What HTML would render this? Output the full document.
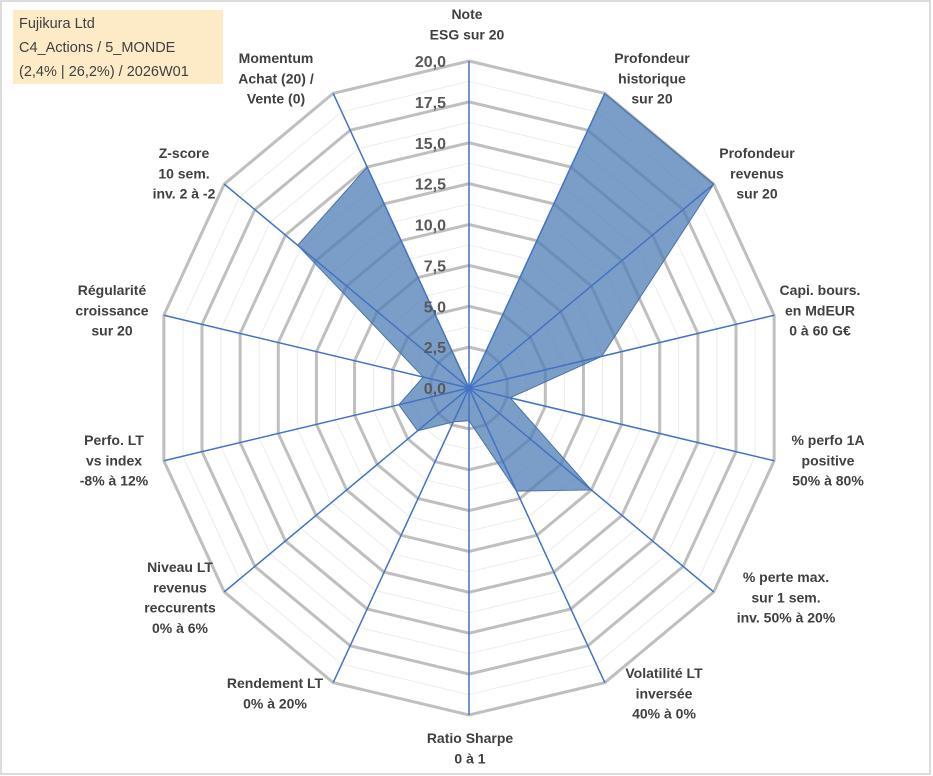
<!DOCTYPE html>
<html><head><meta charset="utf-8"><style>
body{margin:0;background:#fff;}
#wrap{position:relative;width:933px;height:776px;overflow:hidden;}
svg{position:absolute;left:0;top:0;}
.lbl{font-family:"Liberation Sans",sans-serif;font-weight:bold;font-size:14px;fill:#404040;}
.tick{font-family:"Liberation Sans",sans-serif;font-weight:bold;font-size:16px;fill:#595959;}
#info{position:absolute;left:13px;top:10px;width:210px;height:74px;background:#fdebc8;font-family:"Liberation Sans",sans-serif;font-size:14.5px;color:#404040;line-height:24px;padding:2px 0 0 6px;box-sizing:border-box;}
</style></head><body>
<div id="wrap">
<svg id="chart" width="933" height="776">
<rect x="1" y="1" width="929" height="773" fill="none" stroke="#d0d0d0" stroke-width="1.5"/>
</svg>
<div id="info">Fujikura Ltd<br>C4_Actions / 5_MONDE<br>(2,4% | 26,2%) / 2026W01</div>
</div>
<script>
const categories=[
 ["Note","ESG sur 20"],["Profondeur","historique","sur 20"],["Profondeur","revenus","sur 20"],
 ["Capi. bours.","en MdEUR","0 à 60 G€"],["% perfo 1A","positive","50% à 80%"],
 ["% perte max.","sur 1 sem.","inv. 50% à 20%"],["Volatilité LT","inversée","40% à 0%"],
 ["Ratio Sharpe","0 à 1"],["Rendement LT","0% à 20%"],["Niveau LT","revenus","reccurents","0% à 6%"],
 ["Perfo. LT","vs index","-8% à 12%"],["Régularité","croissance","sur 20"],
 ["Z-score","10 sem.","inv. 2 à -2"],["Momentum","Achat (20) /","Vente (0)"]];
const values=[0,20,20,8.7,2.7,10,7,2,2.3,4.2,4.6,3,14,15];
const tickValues=[0,2.5,5,7.5,10,12.5,15,17.5,20];
const tickLabels=["0,0","2,5","5,0","7,5","10,0","12,5","15,0","17,5","20,0"];
const labelPos=[[467,14],[652,58],[757,153],[820,290],[828,440],[786,577],[664,673],[470,738],[275,683],[180,567],[114,440],[112,290],[184,153],[276,58]];

const svg=document.getElementById('chart');
const NS="http://www.w3.org/2000/svg";
const cx=469,cy=388,rx=313,ry=327,maxV=20,N=categories.length;
function pt(i,v){const a=i*2*Math.PI/N;return [cx+Math.sin(a)*rx*v/maxV, cy-Math.cos(a)*ry*v/maxV];}
function mk(tag,attrs){const e=document.createElementNS(NS,tag);for(const k in attrs)e.setAttribute(k,attrs[k]);svg.appendChild(e);return e;}
function ring(v){const p=[];for(let i=0;i<N;i++)p.push(pt(i,v).join(','));return p.join(' ');}
// minor rings
for(let k=0;k<tickValues.length-1;k++){
 const v=(tickValues[k]+tickValues[k+1])/2;
 const e=mk('polygon',{points:ring(v),fill:'none',stroke:'#ececec','stroke-width':1});
 
 
}
tickValues.forEach((v,k)=>{if(v===0)return;
 const e=mk('polygon',{points:ring(v),fill:'none',stroke:'#bfbfbf','stroke-width':3});
 
 
});
// data polygon
const poly=mk('polygon',{points:values.map((v,i)=>pt(i,v).join(',')).join(' '),fill:'rgb(79,125,181)','fill-opacity':0.75,stroke:'#4d72a3','stroke-width':1});


// spokes
for(let i=0;i<N;i++){const p=pt(i,maxV);
 const e=mk('line',{x1:cx,y1:cy,x2:p[0],y2:p[1],stroke:'#4472c4','stroke-width':1.5});
 
 
}
// ticks
tickValues.forEach((v,k)=>{const y=cy-ry*v/maxV;
 const t=mk('text',{x:446,y:y+6,'text-anchor':'end',class:'tick'});t.textContent=tickLabels[k];
 
 
});
// labels
categories.forEach((lines,i)=>{const [x,y]=labelPos[i];
 const t=mk('text',{class:'lbl','text-anchor':'middle'});
 
 
 lines.forEach((s,j)=>{const ts=document.createElementNS(NS,'tspan');ts.setAttribute('x',x);ts.setAttribute('y',y+5+j*20.3);ts.textContent=s;t.appendChild(ts);});
});
</script>
</body></html>
